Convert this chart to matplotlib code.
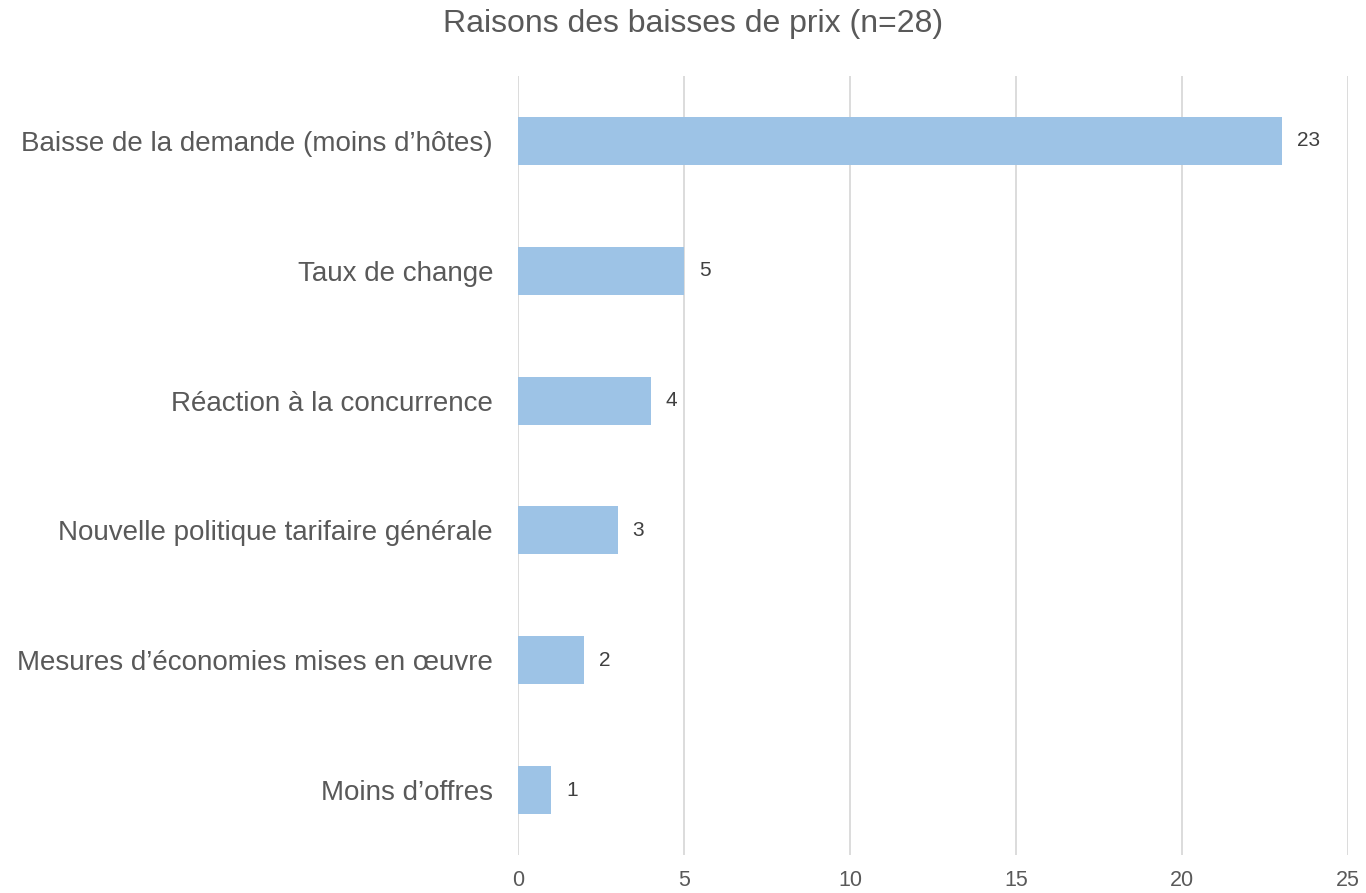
import matplotlib
matplotlib.use("Agg")
import matplotlib.pyplot as plt

categories = ["Baisse de la demande (moins d’hôtes)", "Taux de change", "Réaction à la concurrence",
              "Nouvelle politique tarifaire générale", "Mesures d’économies mises en œuvre", "Moins d’offres"]
values = [23, 5, 4, 3, 2, 1]
xticks = [0, 5, 10, 15, 20, 25]
title = "Raisons des baisses de prix (n=28)"

plt.rcParams['font.family'] = ['Liberation Sans', 'DejaVu Sans']
text_color = "#595959"

fig = plt.figure(figsize=(13.66, 8.93), dpi=100)
ax = fig.add_axes([518/1366, 1-855/893, (1348-518)/1366, (855-76)/893])

y = list(range(len(categories)))
ax.barh(y, values, height=0.37, color="#9DC3E6", zorder=3)
for yi, v in zip(y, values):
    ax.text(v + 0.45, yi, str(v), va="center", ha="left", fontsize=15, color="#404040")

ax.set_yticks(y)
ax.set_yticklabels(categories, fontsize=20, color=text_color)
ax.set_ylim(len(categories) - 0.5, -0.5)
ax.set_xlim(0, 25)
ax.set_xticks(xticks)
ax.set_xticklabels([str(t) for t in xticks], fontsize=15.5, color=text_color)
ax.tick_params(axis="both", length=0)
ax.tick_params(axis="y", pad=18)
ax.tick_params(axis="x", pad=11)
ax.grid(axis="x", color="#D9D9D9", linewidth=1.3, zorder=0)
for s in ax.spines.values():
    s.set_visible(False)
fig.text(693/1366, 1-24/893, title, ha="center", va="center", fontsize=23, color=text_color)

fig.savefig("out.png", dpi=100, facecolor="white")
